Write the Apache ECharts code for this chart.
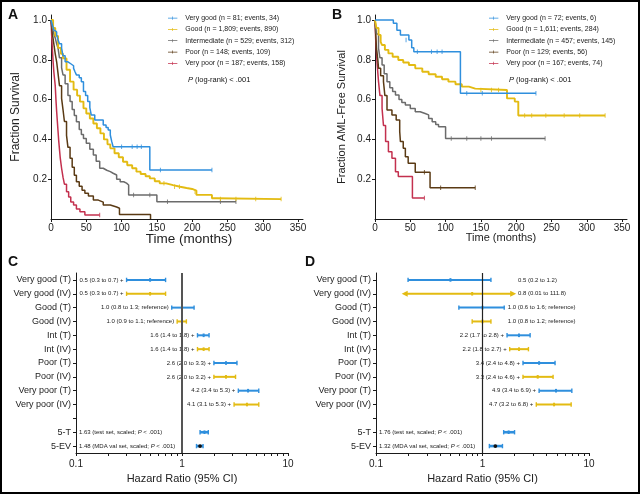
<!DOCTYPE html>
<html><head><meta charset="utf-8">
<script src="https://cdn.jsdelivr.net/npm/echarts@6/dist/echarts.min.js"></script>
<style>html,body{margin:0;padding:0;background:#fff}#c{width:640px;height:494px}</style>
</head><body><div id="c"></div>
<script>
// ---------- tick labels ----------
const timeTicks = [0, 50, 100, 150, 200, 250, 300, 350];
const survTicks = [0.2, 0.4, 0.6, 0.8, 1.0];
const hrTickLabels = [0.1, 1, 10];

// ---------- categories ----------
const groupNames = ['Very good', 'Good', 'Intermediate', 'Poor', 'Very poor'];
const osCounts = ['n = 81; events, 34', 'n = 1,809; events, 890', 'n = 529; events, 312', 'n = 148; events, 109', 'n = 187; events, 158'];
const afsCounts = ['n = 72; events, 6', 'n = 1,611; events, 284', 'n = 457; events, 145', 'n = 129; events, 56', 'n = 167; events, 74'];

// ---------- Panel A: overall survival [months, fraction] ----------
const osVeryGood = [[0,1],[2,0.975],[4,0.95],[6,0.94],[8,0.925],[10,0.9],[12,0.88],[15,0.858],[17,0.82],[20,0.79],[24,0.78],[28,0.77],[32,0.757],[34,0.74],[36,0.724],[40,0.71],[43,0.69],[46,0.64],[49,0.62],[52,0.59],[55,0.56],[57,0.523],[62,0.497],[74,0.472],[78,0.46],[81,0.447],[84,0.422],[86,0.39],[88,0.363],[140,0.246],[228,0.246]];
const osGood = [[0,1],[3,0.96],[6,0.92],[10,0.86],[14,0.83],[17,0.807],[22,0.75],[27,0.69],[32,0.65],[37,0.62],[41,0.59],[46,0.556],[50,0.53],[55,0.505],[60,0.48],[65,0.456],[70,0.43],[75,0.4],[80,0.375],[84,0.355],[90,0.33],[96,0.31],[102,0.288],[108,0.27],[115,0.255],[121,0.238],[127,0.226],[134,0.215],[140,0.204],[147,0.19],[154,0.179],[163,0.17],[173,0.162],[183,0.156],[192,0.151],[200,0.143],[206,0.121],[228,0.104],[235,0.1],[326,0.1]];
const osIntermediate = [[0,1],[2,0.96],[4,0.93],[6,0.91],[8,0.88],[10,0.858],[12,0.81],[15,0.76],[17,0.724],[20,0.68],[24,0.62],[27,0.59],[30,0.55],[33,0.52],[36,0.489],[40,0.45],[43,0.425],[46,0.405],[50,0.38],[55,0.35],[60,0.322],[64,0.29],[69,0.255],[74,0.245],[79,0.238],[84,0.23],[88,0.221],[93,0.2],[98,0.187],[103,0.18],[107,0.171],[110,0.12],[150,0.087],[262,0.087]];
const osPoor = [[0,1],[2,0.93],[4,0.88],[6,0.83],[8,0.79],[10,0.73],[12,0.67],[15,0.606],[17,0.55],[19,0.49],[22,0.42],[24,0.36],[27,0.305],[30,0.26],[33,0.22],[36,0.187],[40,0.165],[44,0.145],[48,0.13],[53,0.115],[60,0.095],[67,0.085],[74,0.07],[84,0.06],[93,0.054],[97,0.022],[141,0]];
const osVeryPoor = [[0,1],[1,0.92],[2,0.85],[3,0.79],[4,0.74],[6,0.67],[7,0.6],[8,0.54],[9,0.49],[10,0.44],[11,0.39],[12,0.35],[13,0.31],[15,0.255],[17,0.21],[19,0.175],[22,0.137],[25,0.11],[28,0.085],[32,0.07],[36,0.05],[41,0.037],[48,0.02],[69,0.02]];
// censor marks
const osVeryGoodCens = [[100,0.363],[115,0.363],[122,0.363],[128,0.363],[155,0.246],[228,0.246]];
const osGoodCens = [[160,0.179],[175,0.162],[182,0.162],[204,0.137],[240,0.1],[262,0.1],[290,0.1],[326,0.1]];
const osIntermediateCens = [[117,0.12],[140,0.12],[165,0.087],[240,0.087],[262,0.087]];
const osVeryPoorCens = [[69,0.02]];

// ---------- Panel B: AML-free survival ----------
const afsVeryGood = [[0,1],[26,0.983],[31,0.949],[36,0.925],[48,0.9],[52,0.86],[55,0.84],[121,0.632],[228,0.632]];
const afsGood = [[0,1],[2,0.96],[5,0.925],[8,0.89],[10,0.874],[14,0.85],[19,0.832],[25,0.815],[33,0.799],[40,0.786],[48,0.774],[57,0.757],[67,0.74],[76,0.727],[86,0.715],[95,0.702],[104,0.69],[114,0.677],[123,0.665],[133,0.655],[142,0.648],[187,0.606],[198,0.59],[203,0.52],[326,0.52]];
const afsIntermediate = [[0,1],[2,0.93],[5,0.858],[7,0.81],[10,0.774],[13,0.73],[17,0.69],[21,0.66],[25,0.64],[29,0.623],[34,0.6],[38,0.585],[43,0.573],[50,0.555],[57,0.539],[64,0.53],[71,0.523],[76,0.505],[81,0.489],[86,0.475],[90,0.464],[100,0.405],[241,0.405]];
const afsPoor = [[0,1],[1,0.93],[2,0.86],[4,0.8],[5,0.757],[8,0.72],[12,0.69],[14,0.62],[17,0.548],[24,0.523],[30,0.497],[35,0.44],[36,0.389],[40,0.355],[43,0.313],[47,0.28],[57,0.235],[78,0.157],[142,0.157]];
const afsVeryPoor = [[0,1],[1,0.9],[3,0.78],[5,0.69],[7,0.62],[10,0.556],[12,0.47],[15,0.389],[19,0.338],[24,0.305],[29,0.238],[33,0.213],[53,0.105],[70,0.105]];
const afsVeryGoodCens = [[44,0.9],[60,0.84],[80,0.84],[88,0.84],[95,0.84],[130,0.632],[152,0.632],[228,0.632]];
const afsGoodCens = [[150,0.648],[165,0.648],[175,0.648],[212,0.52],[222,0.52],[242,0.52],[268,0.52],[290,0.52],[326,0.52]];
const afsIntermediateCens = [[108,0.405],[130,0.405],[150,0.405],[165,0.405],[241,0.405]];
const afsPoorCens = [[70,0.235],[93,0.157],[142,0.157]];
const afsVeryPoorCens = [[70,0.105]];

// ---------- Panels C & D: hazard ratios ----------
const rowLabels = ['Very good (T)','Very good (IV)','Good (T)','Good (IV)','Int (T)','Int (IV)','Poor (T)','Poor (IV)','Very poor (T)','Very poor (IV)','','5-T','5-EV'];
const osHR = [0.5,0.5,1.0,1.0,1.6,1.6,2.6,2.6,4.2,4.1,null,1.63,1.48];
const osLo = [0.3,0.3,0.8,0.9,1.4,1.4,2.0,2.0,3.4,3.1,null,1.48,1.37];
const osHi = [0.7,0.7,1.3,1.1,1.8,1.8,3.3,3.2,5.3,5.3,null,1.77,1.58];
const osNote = ['0.5 (0.3 to 0.7) +','0.5 (0.3 to 0.7) +','1.0 (0.8 to 1.3; reference)','1.0 (0.9 to 1.1; reference)','1.6 (1.4 to 1.8) +','1.6 (1.4 to 1.8) +','2.6 (2.0 to 3.3) +','2.6 (2.0 to 3.2) +','4.2 (3.4 to 5.3) +','4.1 (3.1 to 5.3) +','','1.63 (test set, scaled; {i|P} < .001)','1.48 (MDA val set, scaled; {i|P} < .001)'];
const afsHR = [0.5,0.8,1.0,1.0,2.2,2.2,3.4,3.3,4.9,4.7,null,1.76,1.32];
const afsLo = [0.2,0.01,0.6,0.8,1.7,1.8,2.4,2.4,3.4,3.2,null,1.58,1.16];
const afsHi = [1.2,111.8,1.6,1.2,2.8,2.7,4.8,4.6,6.9,6.8,null,2.0,1.54];
const afsNote = ['0.5 (0.2 to 1.2)','0.8 (0.01 to 111.8)','1.0 (0.6 to 1.6; reference)','1.0 (0.8 to 1.2; reference)','2.2 (1.7 to 2.8) +','2.2 (1.8 to 2.7) +','3.4 (2.4 to 4.8) +','3.3 (2.4 to 4.6) +','4.9 (3.4 to 6.9) +','4.7 (3.2 to 6.8) +','','1.76 (test set, scaled; {i|P} < .001)','1.32 (MDA val set, scaled; {i|P} < .001)'];

// ---------- styling ----------
const FONT = '"Liberation Sans", Arial, Helvetica, sans-serif';
const colors = ['#2f8fdd', '#e3bb12', '#6b6b6b', '#5a3a14', '#c3304e'];
const INK = '#1a1a1a';

const chart = echarts.init(document.getElementById('c'), null, {renderer: 'canvas'});

const legendIcon = 'path://M0,0h0.01v0.01H0Z M0,3.4H15V4.6H0Z M7,1.5H8V6.5H7Z M0,8h0.01v0.01H0Z';

function kmLine(name, data, color, gi, w) {
  return {type: 'line', name, xAxisIndex: gi, yAxisIndex: gi, data, step: 'end',
    showSymbol: false, symbol: 'none', silent: true, lineStyle: {color, width: w}, itemStyle: {color}};
}
function kmCens(data, color, gi) {
  return {type: 'scatter', xAxisIndex: gi, yAxisIndex: gi, data, symbol: 'rect',
    symbolSize: [1, 4.5], silent: true, itemStyle: {color}};
}
function kmX(gi, fs, pad) {
  return {type: 'value', gridIndex: gi, min: 0, max: 357,
    name: 'Time (months)', nameLocation: 'middle', nameGap: 13, nameMoveOverlap: false,
    nameTextStyle: {fontSize: fs, color: '#222', fontFamily: FONT, padding: pad},
    axisLine: {show: true, onZero: false, lineStyle: {color: INK, width: 1}},
    axisTick: {show: true, length: 3, customValues: timeTicks, lineStyle: {color: INK}},
    axisLabel: {customValues: timeTicks, fontSize: 10, color: '#222', margin: 4, fontFamily: FONT},
    splitLine: {show: false}};
}
function kmY(gi, name, fs, gap) {
  return {type: 'value', gridIndex: gi, min: 0, max: 1.025,
    name, nameLocation: 'middle', nameGap: gap, nameMoveOverlap: false,
    nameTextStyle: {fontSize: fs, color: '#222', fontFamily: FONT},
    axisLine: {show: true, onZero: false, lineStyle: {color: INK, width: 1}},
    axisTick: {show: true, length: 3, customValues: survTicks, lineStyle: {color: INK}},
    axisLabel: {customValues: survTicks, fontSize: 10, color: '#222', margin: 4, fontFamily: FONT,
      formatter: v => v.toFixed(1)},
    splitLine: {show: false}};
}
const hrTicks = [];
[0.1, 1].forEach(d => { for (let k = 1; k <= 9; k++) hrTicks.push(+(d * k).toFixed(2)); });
hrTicks.push(10);
function hrX(gi) {
  return {type: 'log', logBase: 10, gridIndex: gi, min: 0.1, max: 10,
    name: 'Hazard Ratio (95% CI)', nameLocation: 'middle', nameGap: 20, nameMoveOverlap: false,
    nameTextStyle: {fontSize: 11, color: '#222', fontFamily: FONT},
    axisLine: {show: true, onZero: false, lineStyle: {color: INK, width: 1}},
    axisTick: {show: true, length: 3, customValues: hrTicks, lineStyle: {color: INK}},
    axisLabel: {customValues: hrTickLabels, fontSize: 10, color: '#222', margin: 6, fontFamily: FONT,
      formatter: v => String(v)},
    splitLine: {show: false}, minorTick: {show: false}};
}
function hrY(gi) {
  return {type: 'category', gridIndex: gi, data: rowLabels, inverse: true,
    axisLine: {show: true, onZero: false, lineStyle: {color: INK, width: 1}},
    axisTick: {show: true, length: 3, alignWithLabel: true, lineStyle: {color: INK}},
    axisLabel: {fontSize: 9, color: '#222', margin: 5, fontFamily: FONT, interval: 0},
    splitLine: {show: false}};
}

const TRUNC_LO = 0.19, TRUNC_HI = 1.9;
function forest(gi, hr, lo, hi, notes, panel, refColor, refWidth) {
  const rows = [];
  hr.forEach((v, i) => { if (v != null) rows.push(i); });
  return {
    type: 'custom', xAxisIndex: gi, yAxisIndex: gi, silent: true,
    data: rows.map(i => [hr[i], i, lo[i], hi[i]]),
    encode: {x: [0, 2, 3], y: 1},
    renderItem(params, api) {
      const i = rows[params.dataIndex];
      let l = lo[i], h = hi[i], arL = false, arR = false;
      if (l < 0.1) { l = TRUNC_LO; arL = true; }
      if (h > 10) { h = TRUNC_HI; arR = true; }
      const y = api.coord([1, i])[1];
      const xl = api.coord([l, i])[0], xh = api.coord([h, i])[0], xm = api.coord([hr[i], i])[0];
      const x0 = api.coord([0.1, i])[0];
      const isIV = i < 10 && i % 2 === 1;
      const col = isIV ? colors[1] : colors[0];
      const summary = i >= 11;
      const lw = summary ? 2.6 : 2;
      const ch = [];
      ch.push({type: 'line', shape: {x1: xl, y1: y, x2: xh, y2: y}, style: {stroke: col, lineWidth: lw}});
      if (arL) ch.push({type: 'polygon', shape: {points: [[xl - 4, y], [xl + 2, y - 3], [xl + 2, y + 3]]}, style: {fill: col}});
      else ch.push({type: 'line', shape: {x1: xl, y1: y - 2.2, x2: xl, y2: y + 2.2}, style: {stroke: col, lineWidth: 1.4}});
      if (arR) ch.push({type: 'polygon', shape: {points: [[xh + 4, y], [xh - 2, y - 3], [xh - 2, y + 3]]}, style: {fill: col}});
      else ch.push({type: 'line', shape: {x1: xh, y1: y - 2.2, x2: xh, y2: y + 2.2}, style: {stroke: col, lineWidth: 1.4}});
      if (i === 12) ch.push({type: 'circle', shape: {cx: xm, cy: y, r: 1.9}, style: {fill: '#111'}});
      else ch.push({type: 'rect', shape: {x: xm - 1, y: y - 1.8, width: 2, height: 3.6}, style: {fill: col}});
      let tx, align;
      if (summary) { tx = x0 + 3; align = 'left'; }
      else if (panel === 'D' && i <= 3) { tx = api.coord([i <= 1 ? 2.15 : 1.73, i])[0]; align = 'left'; }
      else { tx = xl - 3; align = 'right'; }
      ch.push({type: 'text', style: {text: notes[i], x: tx, y: y, align, verticalAlign: 'middle',
        fontSize: 6, fontFamily: FONT, fill: '#222',
        rich: {i: {fontStyle: 'italic', fontSize: 6, fontFamily: FONT, fill: '#222'}}}});
      return {type: 'group', children: ch};
    },
    markLine: {silent: true, symbol: ['none', 'none'], label: {show: false},
      lineStyle: {color: refColor, width: refWidth, type: 'solid'}, data: [{xAxis: 1}]},
    z: 3
  };
}

const osSets = [osVeryGood, osGood, osIntermediate, osPoor, osVeryPoor];
const afsSets = [afsVeryGood, afsGood, afsIntermediate, afsPoor, afsVeryPoor];
const osCens = [osVeryGoodCens, osGoodCens, osIntermediateCens, [], osVeryPoorCens];
const afsCens = [afsVeryGoodCens, afsGoodCens, afsIntermediateCens, afsPoorCens, afsVeryPoorCens];
const osNames = groupNames.map((g, k) => `${g} (${osCounts[k]})`);
const afsNames = groupNames.map((g, k) => `${g} (${afsCounts[k]})`);

const series = [];
for (let k = 4; k >= 0; k--) {
  series.push(kmLine(osNames[k], osSets[k], colors[k], 0, k === 1 ? 1.9 : 1.5));
  if (osCens[k].length) series.push(kmCens(osCens[k], colors[k], 0));
  series.push(kmLine(afsNames[k], afsSets[k], colors[k], 1, k === 1 ? 1.9 : 1.5));
  if (afsCens[k].length) series.push(kmCens(afsCens[k], colors[k], 1));
}
series.push(forest(2, osHR, osLo, osHi, osNote, 'C', '#555', 2));
series.push(forest(3, afsHR, afsLo, afsHi, afsNote, 'D', '#222', 1.2));

function legendFor(left, names) {
  return {left, top: 12.5, orient: 'vertical', padding: 0, itemGap: 0, itemWidth: 15, itemHeight: 5,
    icon: legendIcon, selectedMode: false, data: names,
    textStyle: {fontSize: 7, lineHeight: 11.3, color: '#222', fontFamily: FONT}};
}
function txt(left, top, text, fs, bold, extra) {
  return Object.assign({type: 'text', left, top, silent: true,
    style: {text, fontSize: fs, fontWeight: bold ? 'bold' : 'normal', fontFamily: FONT, fill: '#111',
      rich: {i: {fontStyle: 'italic', fontSize: fs, fontFamily: FONT, fill: '#111'}}}}, extra || {});
}

chart.setOption({
  animation: false,
  backgroundColor: '#fff',
  textStyle: {fontFamily: FONT},
  grid: [
    {left: 51, top: 15, width: 252, height: 204, containLabel: false, outerBoundsMode: 'none'},
    {left: 375, top: 15, width: 252, height: 204, containLabel: false, outerBoundsMode: 'none'},
    {left: 76, top: 273, width: 212, height: 180, containLabel: false, outerBoundsMode: 'none'},
    {left: 376, top: 273, width: 213, height: 180, containLabel: false, outerBoundsMode: 'none'}
  ],
  xAxis: [kmX(0, 13.5, [0, 0, 0, 24]), kmX(1, 11, 0), hrX(2), hrX(3)],
  yAxis: [kmY(0, 'Fraction Survival', 12, 29), kmY(1, 'Fraction AML-Free Survival', 11, 28), hrY(2), hrY(3)],
  legend: [legendFor(168, osNames), legendFor(489, afsNames)],
  series,
  graphic: [
    {type: 'rect', silent: true, shape: {x: 1, y: 1, width: 638, height: 492}, style: {fill: 'none', stroke: '#000', lineWidth: 2}},
    txt(8, 8, 'A', 14, true), txt(332, 8, 'B', 14, true),
    txt(8, 255, 'C', 14, true), txt(305, 255, 'D', 14, true),
    txt(188, 76, '{i|P} (log-rank) < .001', 7.5, false),
    txt(509, 76, '{i|P} (log-rank) < .001', 7.5, false)
  ]
});
</script></body></html>
